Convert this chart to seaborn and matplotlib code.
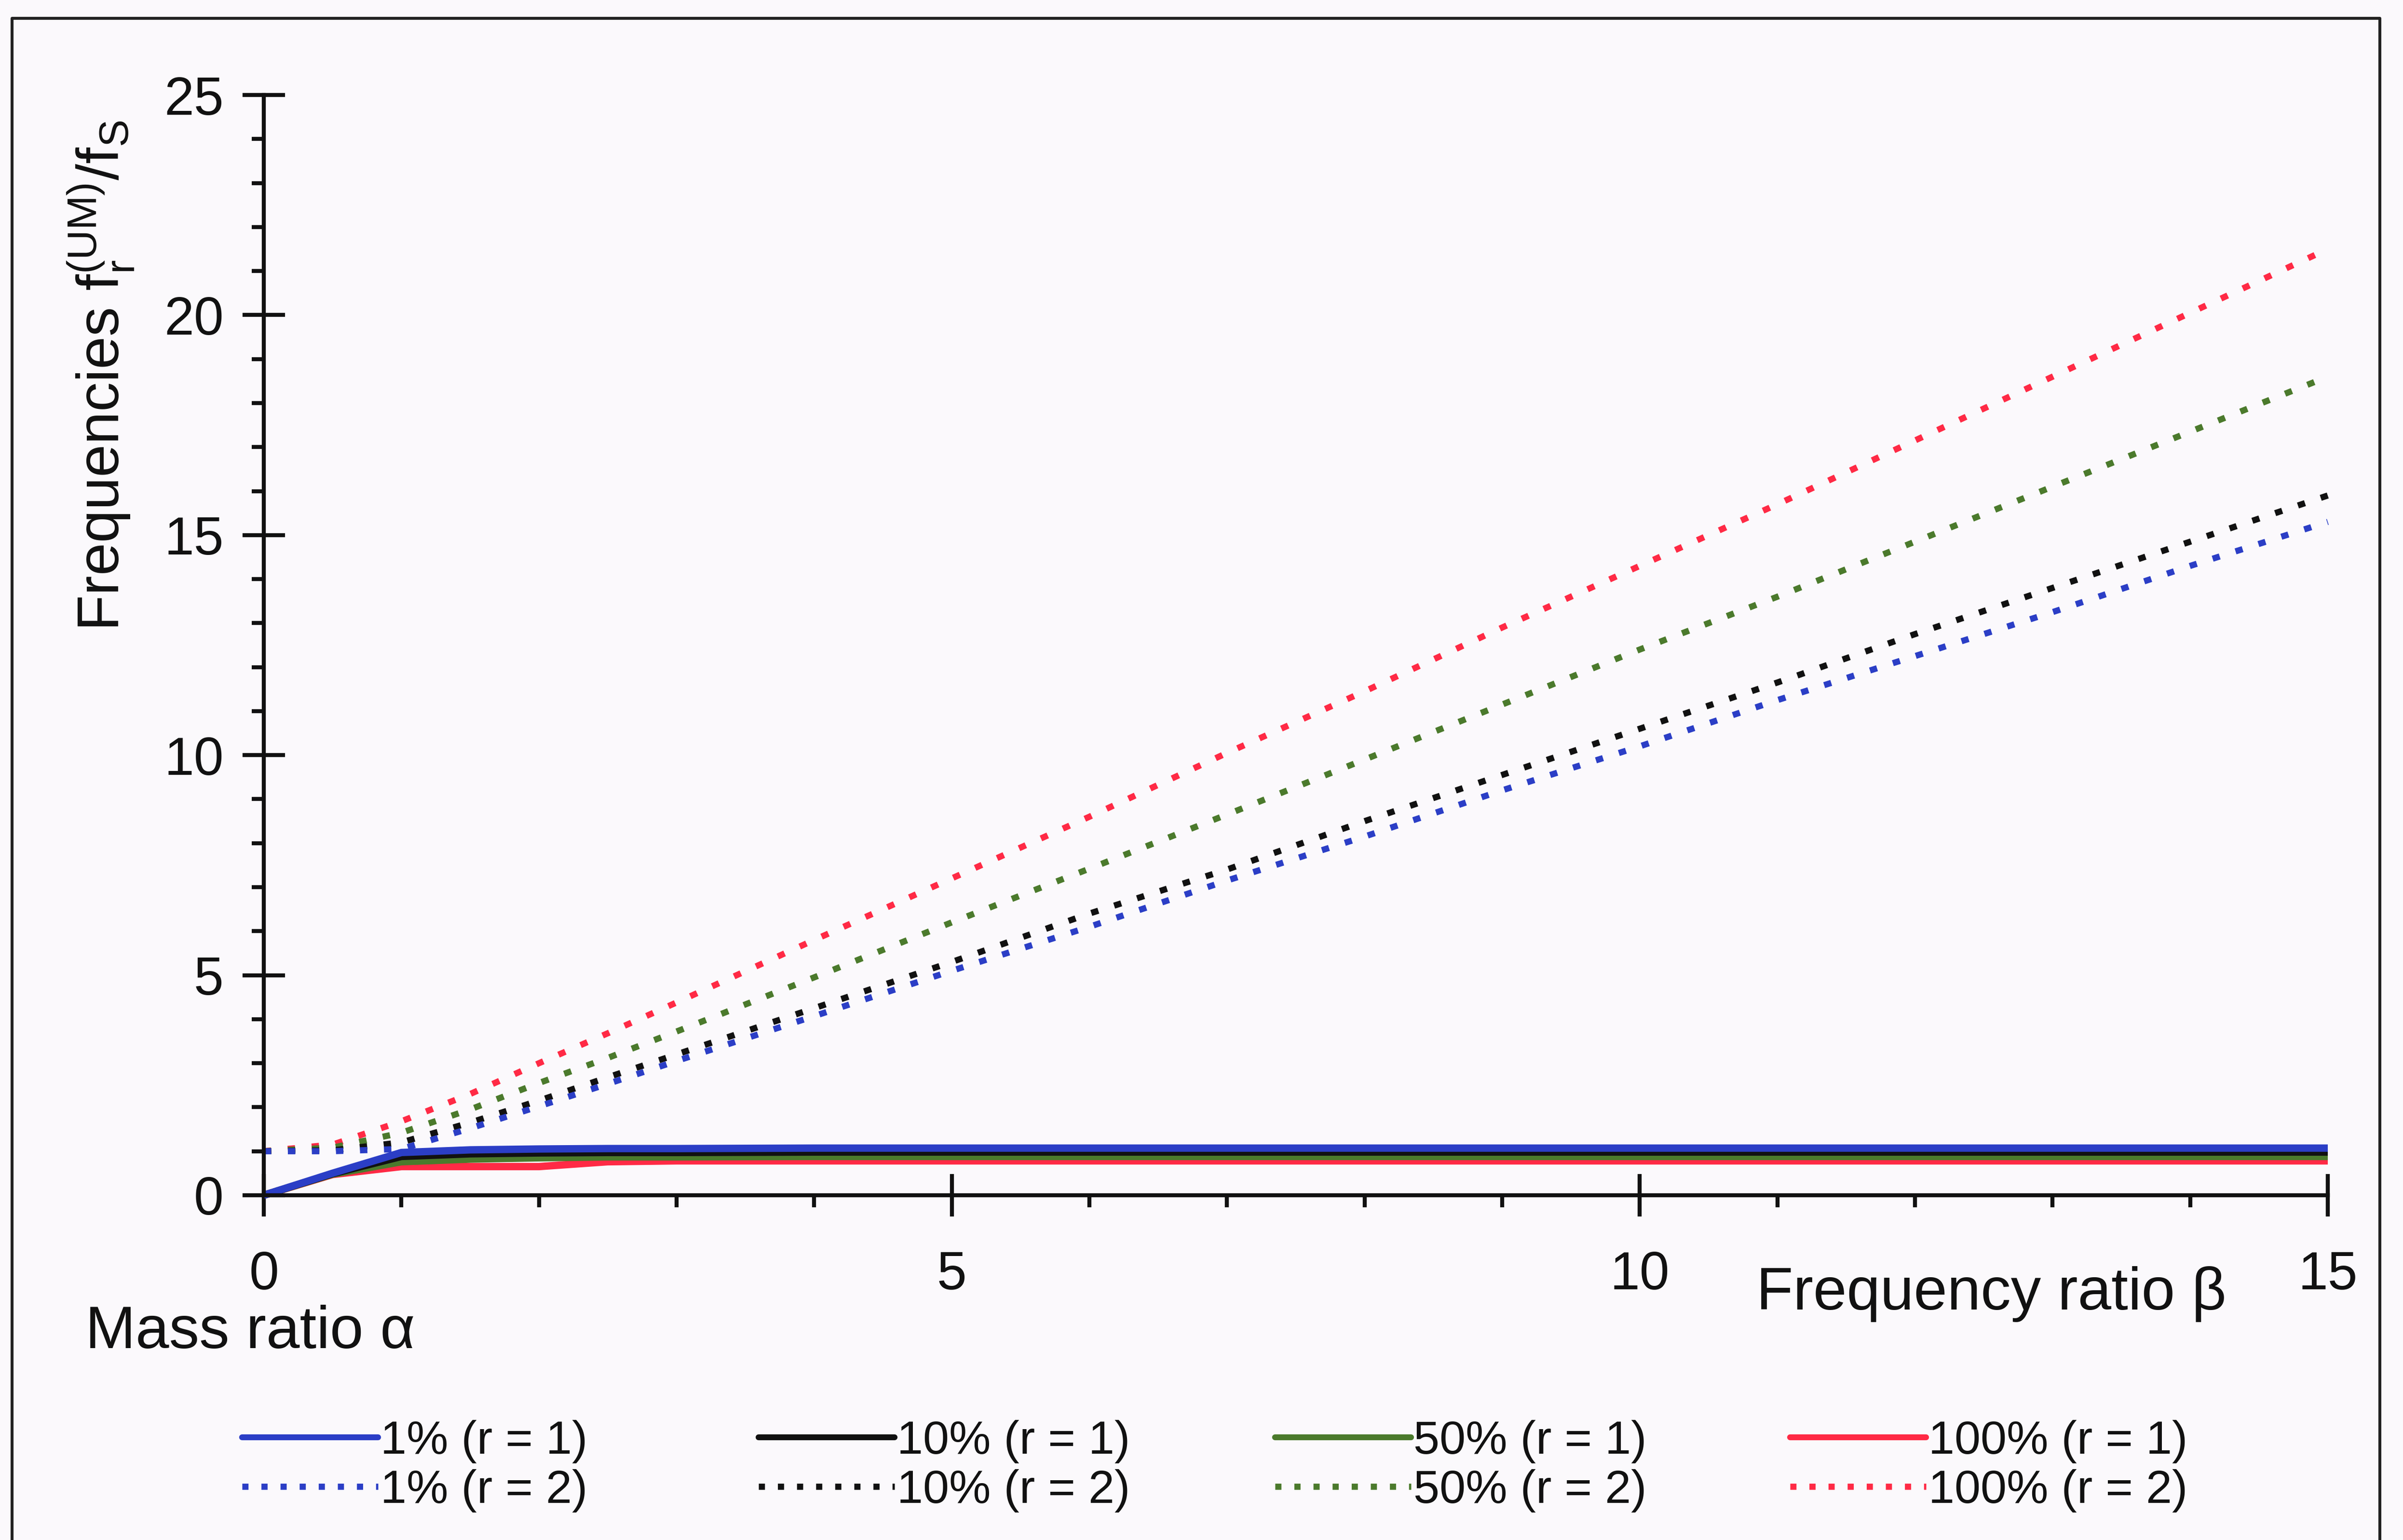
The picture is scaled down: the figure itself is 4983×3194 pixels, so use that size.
import matplotlib
matplotlib.use("Agg")
import matplotlib.pyplot as plt
import seaborn as sns
import pandas as pd
from matplotlib.lines import Line2D

# ---------------- data ----------------
beta = [0, 0.5, 1, 1.5, 2, 2.5, 3, 4, 5, 6, 7, 8, 9, 10, 11, 12, 13, 14, 15]

# first mode (r = 1)
r1_1pct   = [0, 0.50, 0.97, 1.03, 1.05, 1.06, 1.06, 1.07, 1.07, 1.07, 1.07, 1.07, 1.07, 1.07, 1.07, 1.07, 1.07, 1.07, 1.07]
r1_10pct  = [0, 0.49, 0.88, 0.94, 0.96, 0.97, 0.97, 0.98, 0.98, 0.98, 0.98, 0.98, 0.98, 0.98, 0.98, 0.98, 0.98, 0.98, 0.98]
r1_50pct  = [0, 0.48, 0.76, 0.82, 0.85, 0.87, 0.87, 0.88, 0.88, 0.88, 0.88, 0.88, 0.88, 0.88, 0.88, 0.88, 0.88, 0.88, 0.88]
r1_100pct = [0, 0.47, 0.65, 0.65, 0.65, 0.76, 0.78, 0.78, 0.78, 0.78, 0.78, 0.78, 0.78, 0.78, 0.78, 0.78, 0.78, 0.78, 0.78]

# second mode (r = 2)
r2_1pct   = [1.0, 1.00, 1.05, 1.52, 2.02, 2.53, 3.05, 4.07, 5.10, 6.10, 7.15, 8.15, 9.20, 10.20, 11.25, 12.25, 13.25, 14.30, 15.30]
r2_10pct  = [1.0, 1.02, 1.20, 1.65, 2.15, 2.68, 3.20, 4.25, 5.30, 6.40, 7.40, 8.50, 9.55, 10.60, 11.65, 12.75, 13.80, 14.85, 15.90]
r2_50pct  = [1.0, 1.08, 1.42, 1.95, 2.55, 3.12, 3.72, 4.95, 6.20, 7.42, 8.65, 9.90, 11.15, 12.40, 13.60, 14.85, 16.10, 17.35, 18.60]
r2_100pct = [1.0, 1.15, 1.68, 2.30, 3.00, 3.68, 4.38, 5.80, 7.20, 8.60, 10.05, 11.45, 12.90, 14.30, 15.70, 17.15, 18.60, 20.05, 21.50]

mass_labels = ["1%", "10%", "50%", "100%"]
colors = ["#2b3ec6", "#111111", "#4b7a2c", "#ff2a45"]
r1_series = [r1_1pct, r1_10pct, r1_50pct, r1_100pct]
r2_series = [r2_1pct, r2_10pct, r2_50pct, r2_100pct]

xticks_major = [0, 5, 10, 15]
yticks_major = [0, 5, 10, 15, 20, 25]

# ---------------- style ----------------
sns.set_style("ticks")
FONT = ["Liberation Sans", "DejaVu Sans"]
plt.rcParams["font.family"] = FONT
plt.rcParams["mathtext.fontset"] = "custom"
plt.rcParams["mathtext.rm"] = "Liberation Sans"
plt.rcParams["mathtext.it"] = "Liberation Sans"

BG = "#fbf9fc"
fig = plt.figure(figsize=(24.915, 15.97), dpi=200, facecolor=BG)
ax = fig.add_axes([0.1098, 0.2239, 0.9687 - 0.1098, 0.9383 - 0.2239])
ax.set_facecolor(BG)

SOLID_LW = 5.5
DOT_LW = 4.6
DOT = (0, (1.2, 2.7))
DOT_LEG = (0, (1.0, 2.1))

# draw second-mode dotted lines
for ys, c in zip(r2_series[::-1], colors[::-1]):
    df = pd.DataFrame({"beta": beta, "f": ys})
    sns.lineplot(data=df, x="beta", y="f", ax=ax, color=c, lw=DOT_LW,
                 linestyle=DOT, estimator=None, sort=False, legend=False,
                 clip_on=False)
# draw first-mode solid lines (blue on top)
for ys, c in zip(r1_series[::-1], colors[::-1]):
    df = pd.DataFrame({"beta": beta, "f": ys})
    sns.lineplot(data=df, x="beta", y="f", ax=ax, color=c, lw=SOLID_LW,
                 estimator=None, sort=False, legend=False, clip_on=False,
                 solid_capstyle="butt")

ax.set_xlim(0, 15)
ax.set_ylim(0, 25)
ax.set_xticks(xticks_major)
ax.set_xticks(range(0, 16), minor=True)
ax.set_yticks(yticks_major)
ax.set_yticks(range(0, 26), minor=True)
ax.set_xticklabels([str(v) for v in xticks_major])
ax.set_yticklabels([str(v) for v in yticks_major])

for s in ["top", "right"]:
    ax.spines[s].set_visible(False)
for s in ["left", "bottom"]:
    ax.spines[s].set_linewidth(3.0)
    ax.spines[s].set_color("#111111")

ax.tick_params(axis="both", which="major", direction="inout", length=32,
               width=3.0, labelsize=40, color="#111111", labelcolor="#111111")
ax.tick_params(axis="both", which="minor", direction="out", length=9,
               width=3.0, color="#111111")
ax.tick_params(axis="x", which="major", pad=25)
ax.tick_params(axis="y", which="major", pad=14)

ax.set_xlabel("")
ax.set_ylabel(r"Frequencies f$_{\mathregular{r}}^{\mathregular{(UM)}}$/f$_{\mathregular{S}}$",
              fontsize=44, color="#111111")
ax.yaxis.set_label_coords(-0.062, 0.745)

ax.text(0.837, -0.09, "Frequency ratio β", transform=ax.transAxes,
        ha="center", va="center", fontsize=45, color="#111111")
ax.text(-0.0067, -0.125, "Mass ratio α", transform=ax.transAxes,
        ha="center", va="center", fontsize=45, color="#111111")

# legend: four columns, each with solid (r=1) and dotted (r=2)
col_x = [0.1008, 0.3157, 0.5306, 0.7449]
for x0, lab, c in zip(col_x, mass_labels, colors):
    handles = [Line2D([], [], color=c, lw=SOLID_LW * 0.8),
               Line2D([], [], color=c, lw=DOT_LW, linestyle=DOT_LEG)]
    labels = [f"{lab} (r = 1)", f"{lab} (r = 2)"]
    fig.legend(handles, labels, loc="upper left", bbox_to_anchor=(x0, 0.078),
               bbox_transform=fig.transFigure, frameon=False, fontsize=35,
               handlelength=2.9, handletextpad=0.05, borderpad=0,
               borderaxespad=0, labelspacing=0.12, labelcolor="#111111")

# outer frame of the figure (scan border)
x0f, x1f, y1f = 25 / 4983, 4935 / 4983, 1 - 38 / 3194
fig.add_artist(Line2D([x0f, x0f, x1f, x1f], [-0.01, y1f, y1f, -0.01],
                      transform=fig.transFigure, color="#222222", lw=2.2))

fig.savefig("out.png", dpi=200, facecolor=BG)
